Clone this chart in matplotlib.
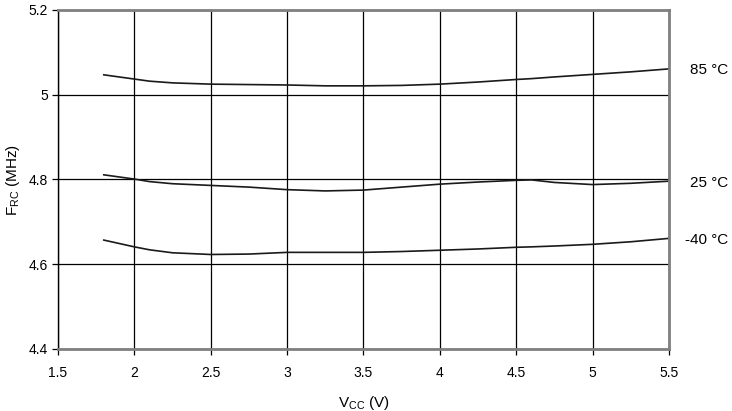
import matplotlib.pyplot as plt
import numpy as np

plt.rcParams['font.family'] = ['Liberation Sans', 'DejaVu Sans']

vcc = np.array([1.8, 1.9, 2.0, 2.1, 2.25, 2.5, 2.75, 3.0, 3.25, 3.5, 3.75, 4.0, 4.25, 4.5, 4.6, 4.75, 5.0, 5.25, 5.5])
f85 = np.array([5.047, 5.042, 5.037, 5.032, 5.028, 5.025, 5.024, 5.023, 5.021, 5.021, 5.022, 5.025, 5.030, 5.036, 5.038, 5.042, 5.048, 5.054, 5.061])
f25 = np.array([4.811, 4.806, 4.801, 4.795, 4.790, 4.786, 4.782, 4.776, 4.773, 4.775, 4.782, 4.789, 4.794, 4.798, 4.799, 4.793, 4.788, 4.791, 4.796])
fm40 = np.array([4.657, 4.649, 4.641, 4.634, 4.627, 4.623, 4.624, 4.628, 4.628, 4.628, 4.630, 4.633, 4.636, 4.640, 4.641, 4.643, 4.647, 4.653, 4.661])
labels = ['85 °C', '25 °C', '-40 °C']

fig = plt.figure(figsize=(7.32, 4.11), dpi=100)
ax = fig.add_axes([0.0792, 0.1509, 0.8347, 0.8248])

for f, lab in zip([f85, f25, fm40], labels):
    ax.plot(vcc, f, color='#1a1a1a', linewidth=1.2)
    ax.annotate(lab, xy=(1.0, f[-1]), xycoords=('axes fraction', 'data'),
                xytext=(43, -1), textcoords='offset points', va='center', ha='right', fontsize=11)

ax.set_xlim(1.5, 5.5)
ax.set_ylim(4.4, 5.2)
ax.set_xticks(np.arange(1.5, 5.51, 0.5))
ax.set_xticklabels(['1.5', '2', '2.5', '3', '3.5', '4', '4.5', '5', '5.5'])
ax.set_yticks([4.4, 4.6, 4.8, 5.0, 5.2])
ax.set_yticklabels(['4.4', '4.6', '4.8', '5', '5.2'])
ax.grid(True, color='black', linewidth=0.9)
ax.tick_params(direction='out', length=4, width=0.9, labelsize=10, pad=8)
ax.tick_params(axis='y', pad=3)

for s in ['top', 'bottom', 'right']:
    ax.spines[s].set_color('#808080')
    ax.spines[s].set_linewidth(2)
ax.spines['left'].set_color('black')
ax.spines['left'].set_linewidth(1)

ax.set_xlabel(r'V$_{\mathregular{CC}}$ (V)', fontsize=11, labelpad=10)
ax.set_ylabel(r'F$_{\mathregular{RC}}$ (MHz)', fontsize=11, labelpad=5)

fig.savefig('out.png', dpi=100)
